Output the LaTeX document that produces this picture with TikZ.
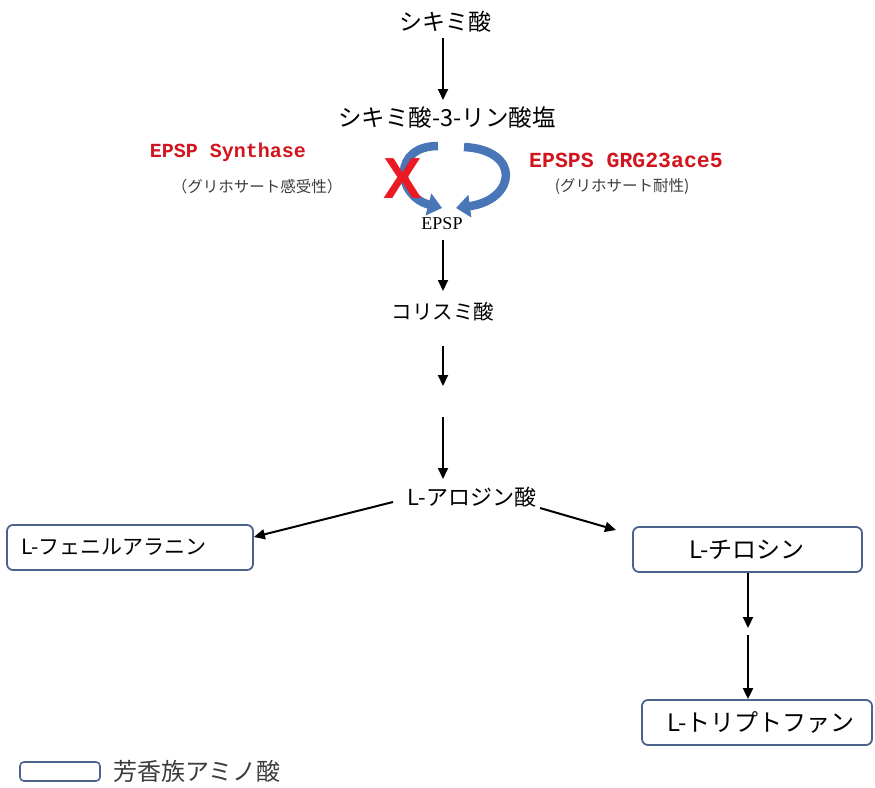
\documentclass[tikz,border=0pt]{standalone}
\usepackage{fontspec}
\setmainfont{Noto Sans CJK JP}
\newfontfamily\monofnt{Liberation Mono}
\newfontfamily\serfnt{Liberation Serif}
\newfontfamily\xfnt{Liberation Sans}
\usetikzlibrary{arrows.meta}
\definecolor{boxline}{RGB}{75,98,140}
\definecolor{curveblue}{RGB}{72,118,182}
\definecolor{labelred}{RGB}{210,20,30}
\definecolor{xred}{RGB}{235,25,35}
\definecolor{subgray}{RGB}{60,60,60}
\tikzset{
  lbl/.style={inner sep=0pt, font=\fontsize{20}{24}\selectfont},
  amino/.style={draw=boxline, line width=1.8pt, rounded corners=6pt, fill=white, inner sep=0pt},
  flow/.style={line width=2pt, -{Triangle[width=10pt,length=11pt]}},
  enz/.style={inner sep=0pt, text=labelred, font=\monofnt\bfseries\fontsize{20}{24}\selectfont},
  sub/.style={inner sep=0pt, text=subgray, font=\fontsize{15.5}{18}\selectfont},
  curvearrow/.style={draw=curveblue, line width=8.5pt, -{Triangle[width=22pt,length=14pt]}}
}
\begin{document}
\begin{tikzpicture}[x=1pt,y=-1pt]
\useasboundingbox (0,0) rectangle (875,787);
% main chain
\node[lbl, font=\fontsize{23}{26}\selectfont] (shik) at (445,22) {シキミ酸};
\node[lbl, font=\fontsize{23.5}{26}\selectfont] (s3p) at (447,118) {シキミ酸-3-リン酸塩};
\node[inner sep=0pt, font=\serfnt\fontsize{18}{20}\selectfont] (epsp) at (442,224) {EPSP};
\node[lbl, font=\fontsize{20.5}{24}\selectfont] (chor) at (443,312) {コリスミ酸};
\node[lbl, font=\fontsize{22}{24}\selectfont] (arog) at (472,497) {L-アロジン酸};
% enzyme labels
\node[enz] (syn) at (228,152) {EPSP Synthase};
\node[sub] (sens) at (257,187) {（グリホサート感受性）};
\node[enz, font=\monofnt\bfseries\fontsize{21.5}{24}\selectfont] (grg) at (626,160) {EPSPS GRG23ace5};
\node[sub] (res) at (622,187) {(グリホサート耐性)};
% curved arrows
\coordinate (lstart) at (438,146);
\coordinate (ltip) at (442,208);
\coordinate (rstart) at (464,147);
\coordinate (rtip) at (456,208);
\draw[curvearrow] (lstart) .. controls (392,146) and (396,196) .. (ltip);
\draw[curvearrow] (rstart) .. controls (522,150) and (516,200) .. (rtip);
\node[inner sep=0pt, text=xred, font=\xfnt\bfseries\fontsize{58}{60}\selectfont] (xmark) at (403,179) {X};
% amino acid boxes
\node[amino, minimum width=246pt, minimum height=45pt] (phe) at (130,547.5) {};
\node[lbl, anchor=west, font=\fontsize{21}{24}\selectfont] (phet) at (21,547.5) {L-フェニルアラニン};
\node[amino, minimum width=229pt, minimum height=45pt] (tyr) at (747.5,549.5) {};
\node[lbl, font=\fontsize{24}{26}\selectfont] (tyrt) at (747,549.5) {L-チロシン};
\node[amino, minimum width=230pt, minimum height=45pt] (trp) at (757,722.5) {};
\node[lbl, font=\fontsize{24}{26}\selectfont] (trpt) at (761,722.5) {L-トリプトファン};
% legend
\node[amino, minimum width=80pt, minimum height=19pt, line width=1.6pt, rounded corners=4pt] (leg) at (60,771.5) {};
\node[lbl, anchor=west, font=\fontsize{24}{26}\selectfont, text=subgray] (legt) at (113,771.5) {芳香族アミノ酸};
% flow arrows
\draw[flow] (443,38) -- (443,100);
\draw[flow] (443,240) -- (443,291);
\coordinate (gapa) at (443,346);
\coordinate (gapb) at (443,386);
\coordinate (gapc) at (443,417);
\coordinate (gapd) at (443,479);
\draw[flow] (gapa) -- (gapb);
\draw[flow] (gapc) -- (gapd);
\coordinate (al) at (393,502);
\coordinate (ar) at (540,508);
\draw[flow] (al) -- (phe.north east |- 0,537) ;
\draw[flow] (ar) -- (616,530);
\coordinate (tyrb) at (748,572);
\coordinate (tmid1) at (748,628);
\coordinate (tmid2) at (748,635);
\draw[flow] (tyr.south -| tyrb) -- (tmid1);
\draw[flow] (tmid2) -- (trp.north -| tmid2);
\end{tikzpicture}
\end{document}
